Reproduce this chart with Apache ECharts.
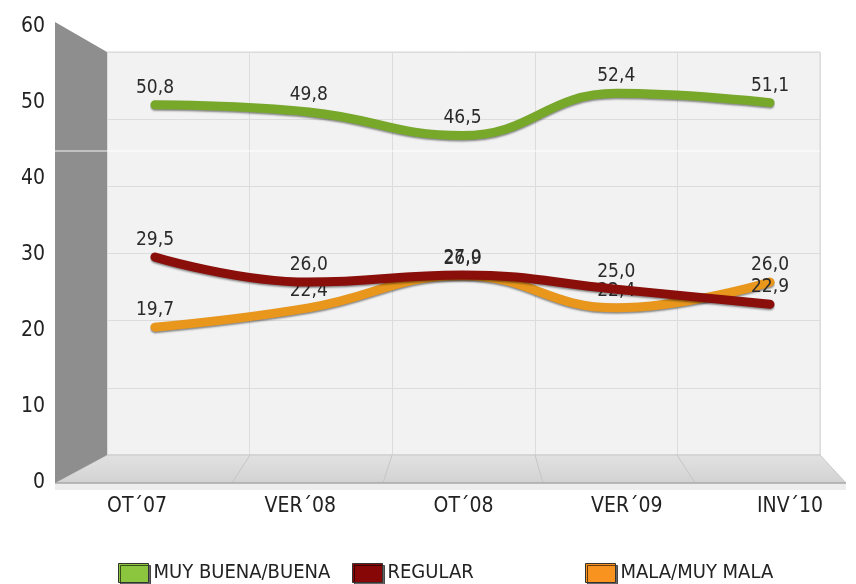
<!DOCTYPE html>
<html><head><meta charset="utf-8">
<script src="https://cdn.jsdelivr.net/npm/echarts@6/dist/echarts.min.js"></script>
<style>html,body{margin:0;padding:0;background:#fff}#c{width:856px;height:584px}</style>
</head><body><div id="c"></div>
<script>
const categories = ["OT´07", "VER´08", "OT´08", "VER´09", "INV´10"];
const yTicks = [0, 10, 20, 30, 40, 50, 60];
const muyBuena = [50.8, 49.8, 46.5, 52.4, 51.1];
const regular = [29.5, 26.0, 27.0, 25.0, 22.9];
const mala = [19.7, 22.4, 26.9, 22.4, 26.0];
const seriesNames = ["MUY BUENA/BUENA", "REGULAR", "MALA/MUY MALA"];

const FONT = "'DejaVu Sans Condensed','DejaVu Sans',sans-serif";
const lineColors = ['#78a82a', '#8a0e0a', '#e8961c'];
const legendColors = ['#8cc63f', '#870606', '#f7931e'];
const chart = echarts.init(document.getElementById('c'));
const fmt = p => p.value.toFixed(1).replace('.', ',');
function lineSeries(name, data, color, z) {
  return {
    name, type: 'line', data, xAxisIndex: 2, yAxisIndex: 2, smooth: 0.45,
    symbol: 'circle', symbolSize: 1, showSymbol: true, z, color,
    itemStyle: { color: 'rgba(0,0,0,0)', borderWidth: 0 },
    lineStyle: { width: 9, color, shadowColor: 'rgba(0,0,0,0.45)', shadowBlur: 2, shadowOffsetY: 1.5, cap: 'round' },
    label: { show: true, position: 'top', distance: 7, formatter: fmt, color: '#2a2a2a', fontSize: 19, fontFamily: FONT }
  };
}
chart.setOption({
  animation: false,
  grid: [
    { left: 107, top: 52, width: 713, height: 403, show: true, backgroundColor: '#f2f2f2', borderColor: '#d6d6d6', borderWidth: 1 },
    { left: 137, top: 27, width: 653, height: 456 },
    { left: 155, top: 39, width: 615, height: 429 }
  ],
  graphic: [
    { type: 'polygon', z: 1, shape: { points: [[55, 483], [107, 455], [820, 455], [846, 483]] },
      style: { fill: new echarts.graphic.LinearGradient(0, 0, 0, 1, [{ offset: 0, color: '#e2e2e2' }, { offset: 1, color: '#d2d2d2' }]), stroke: '#c8c8c8', lineWidth: 1 } },
    { type: 'line', z: 1, shape: { x1: 250, y1: 455, x2: 232, y2: 483 }, style: { stroke: '#c6c6c6', lineWidth: 1 } },
    { type: 'line', z: 1, shape: { x1: 392, y1: 455, x2: 383, y2: 483 }, style: { stroke: '#c6c6c6', lineWidth: 1 } },
    { type: 'line', z: 1, shape: { x1: 535, y1: 455, x2: 543, y2: 483 }, style: { stroke: '#c6c6c6', lineWidth: 1 } },
    { type: 'line', z: 1, shape: { x1: 677, y1: 455, x2: 695, y2: 483 }, style: { stroke: '#c6c6c6', lineWidth: 1 } },
    { type: 'rect', z: 1, shape: { x: 55, y: 483, width: 791, height: 7 }, style: { fill: '#ededed' } },
    { type: 'line', z: 1, shape: { x1: 55, y1: 483, x2: 846, y2: 483 }, style: { stroke: '#a8a8a8', lineWidth: 1.5 } },
    { type: 'polygon', z: 1, shape: { points: [[55, 22], [107, 52], [107, 455], [55, 483]] }, style: { fill: '#8e8e8e' } },
    { type: 'line', z: 1, shape: { x1: 55, y1: 151, x2: 820, y2: 151 }, style: { stroke: '#ffffff', lineWidth: 1.2, opacity: 0.9 } }
  ],
  xAxis: [
    { gridIndex: 0, type: 'category', data: categories, boundaryGap: true, axisLine: { show: false }, axisTick: { show: false }, axisLabel: { show: false },
      splitLine: { show: true, lineStyle: { color: '#dcdcdc', width: 1 } } },
    { gridIndex: 1, type: 'category', data: categories, boundaryGap: false, axisLine: { show: false }, axisTick: { show: false },
      axisLabel: { color: '#222', fontSize: 21, fontFamily: FONT, margin: 13 } },
    { gridIndex: 2, type: 'category', data: categories, boundaryGap: false, show: false }
  ],
  yAxis: [
    { gridIndex: 0, type: 'value', min: 0, max: 60, interval: 10, axisLine: { show: false }, axisTick: { show: false }, axisLabel: { show: false },
      splitLine: { show: true, lineStyle: { color: '#dcdcdc', width: 1 } } },
    { gridIndex: 1, type: 'value', min: yTicks[0], max: yTicks[yTicks.length - 1], interval: 10, offset: 82, axisLine: { show: false }, axisTick: { show: false },
      splitLine: { show: false }, axisLabel: { color: '#222', fontSize: 21, fontFamily: FONT, margin: 10 } },
    { gridIndex: 2, type: 'value', min: 0, max: 60, show: false, splitLine: { show: false } }
  ],
  legend: [0, 1, 2].map((i) => ({
    data: [{ name: seriesNames[i], itemStyle: { color: legendColors[i] } }], left: [113, 347, 580][i], top: 558, icon: 'rect', itemWidth: 30, itemHeight: 19, itemGap: 5,
    textStyle: { color: '#222', fontSize: 20, fontFamily: FONT, padding: [2, 0, 0, 0] },
    itemStyle: { opacity: 1, borderColor: '#333', borderWidth: 1, shadowColor: 'rgba(0,0,0,0.6)', shadowOffsetX: 2, shadowOffsetY: 2 }
  })),
  series: [
    lineSeries(seriesNames[0], muyBuena, lineColors[0], 5),
    lineSeries(seriesNames[2], mala, lineColors[2], 4),
    lineSeries(seriesNames[1], regular, lineColors[1], 6)
  ]
});
</script></body></html>
